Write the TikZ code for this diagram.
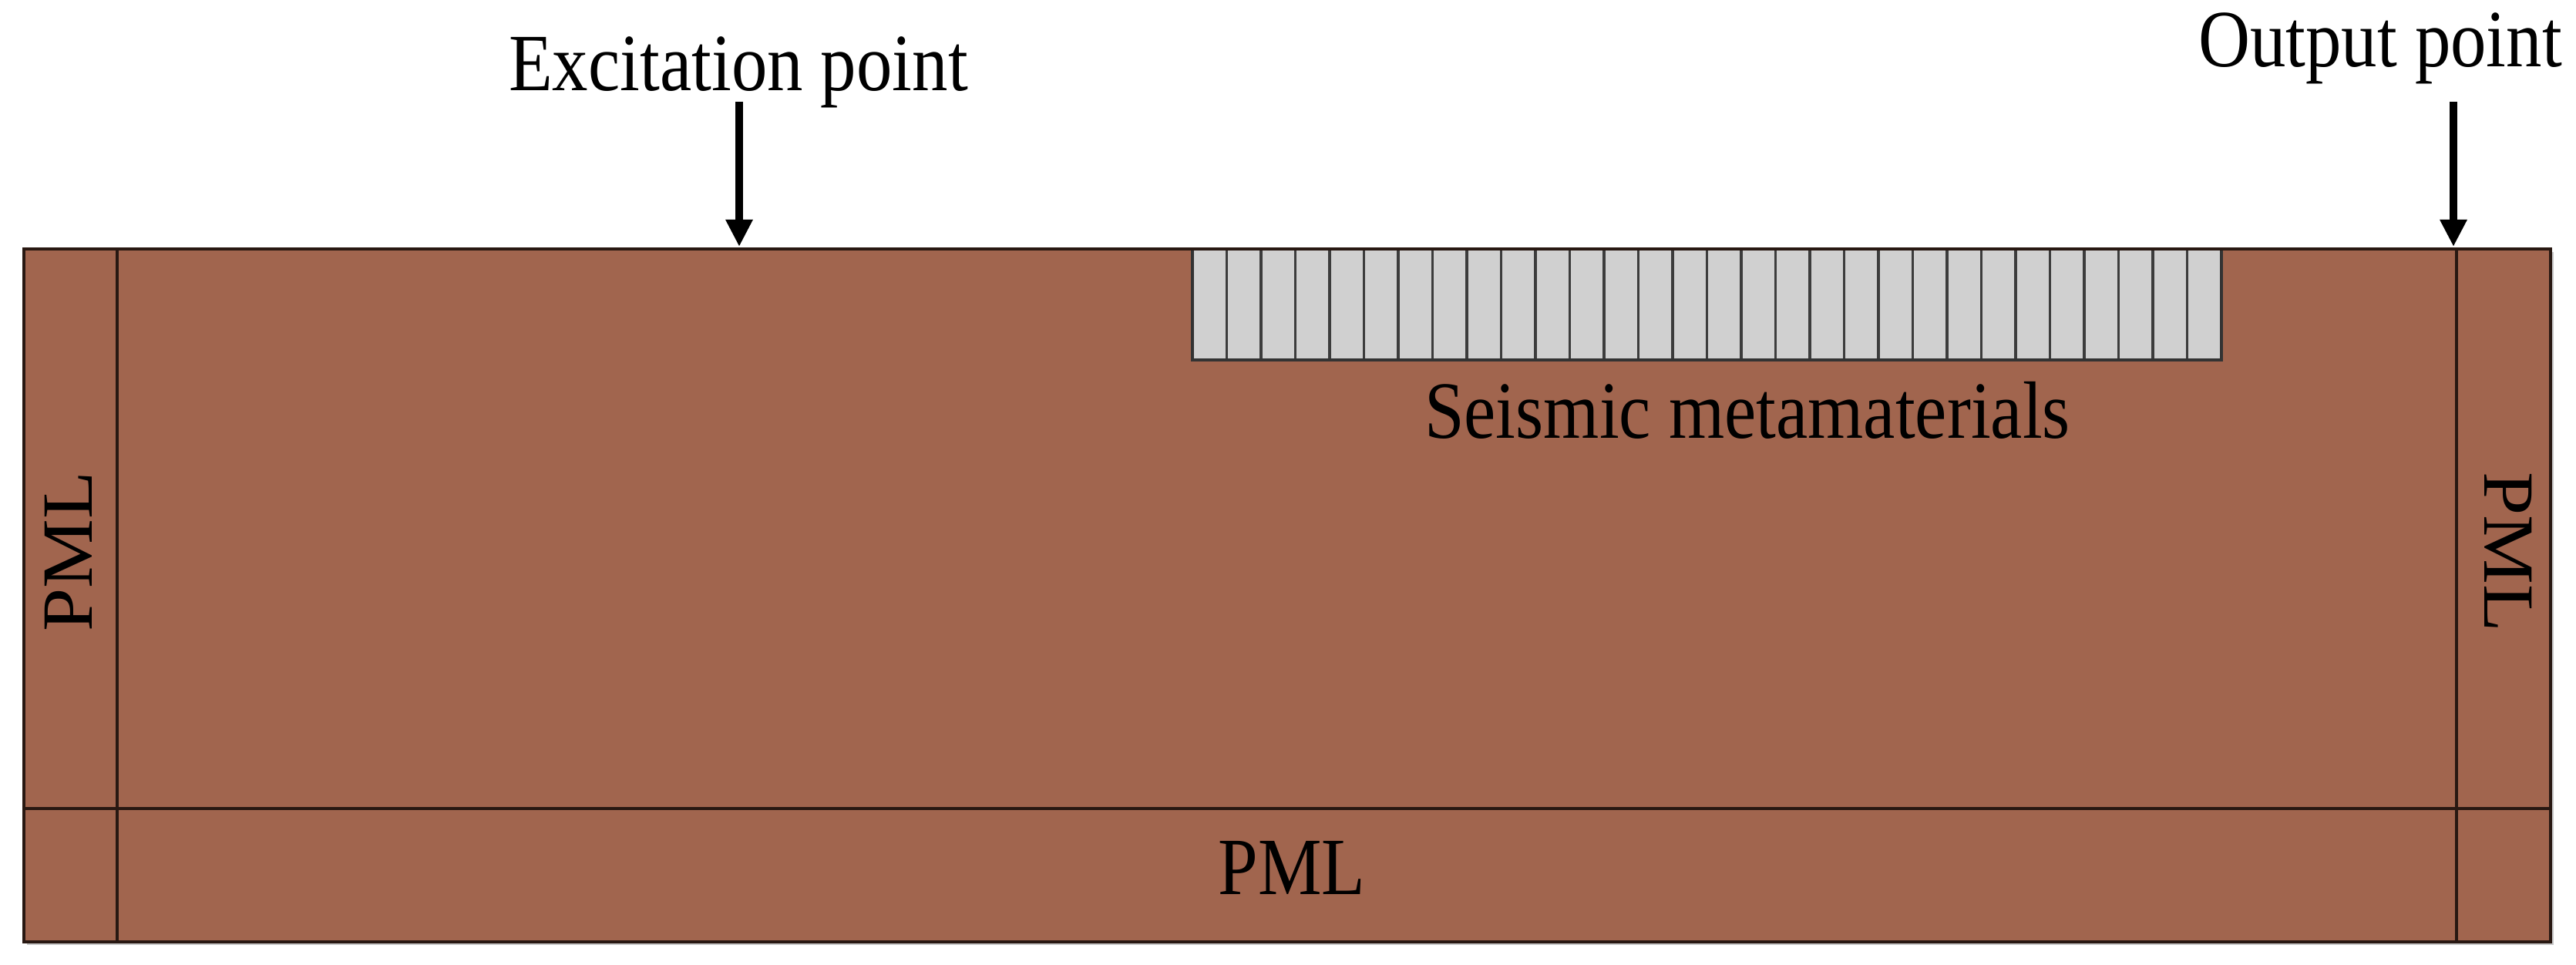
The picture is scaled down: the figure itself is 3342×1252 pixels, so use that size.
\documentclass[tikz,border=0pt]{standalone}
\usepackage{fontspec}
\setmainfont{Liberation Serif}
\newfontfamily\labfont[FakeStretch=0.88]{Liberation Serif}
\newfontfamily\pmlfont[FakeStretch=1.08]{Liberation Serif}
\usetikzlibrary{arrows.meta}
\definecolor{soil}{RGB}{161,101,78}
\definecolor{metafill}{RGB}{208,208,208}
\definecolor{metaline}{RGB}{60,60,60}
\definecolor{frameline}{RGB}{40,24,18}
\begin{document}
\begin{tikzpicture}[x=0.01cm,y=-0.01cm,
  lab/.style={font=\labfont\fontsize{30}{36}\selectfont, inner sep=0pt, text=black},
  pmlv/.style={font=\pmlfont\fontsize{26.6}{32}\selectfont, inner sep=0pt, text=black},
  frame/.style={draw=frameline, line width=0.045cm},
  cell/.style={fill=metafill, draw=metaline, line width=0.035cm},
  arr/.style={line width=0.1cm, draw=black, -{Triangle[width=0.33cm,length=0.35cm]}}]
\useasboundingbox (0,0) rectangle (3342,1252);
% faint shadow
\fill[black!22] (35,327) rectangle (3313,1226);
% domain
\fill[soil] (31,323) rectangle (3309,1222);
% metamaterial cells
\foreach \i in {0,...,29}
  \draw[cell] ({1547+44.5*\i},323) rectangle ({1547+44.5*(\i+1)},467);
\draw[draw=black!80, line width=0.04cm] (1547,323) -- (1547,467) -- (2882,467) -- (2882,323);
% PML boundaries
\draw[frame] (152,323) -- (152,1222);
\draw[frame] (3187,323) -- (3187,1222);
\draw[frame] (31,1049) -- (3309,1049);
\draw[frame] (31,323) rectangle (3309,1222);
% labels
\node[lab, anchor=base] (exc) at (958,118) {Excitation point};
\node[lab, anchor=base] (out) at (3088,87) {Output point};
\node[lab, anchor=base] (seis) at (2267,568) {Seismic metamaterials};
\node[lab, anchor=base] (pmlB) at (1676,1160) {PML};
\node[pmlv, anchor=base, rotate=90] (pmlL) at (120,716) {PML};
\node[pmlv, anchor=base, rotate=-90] (pmlR) at (3223,716) {PML};
% arrows
\coordinate (excTop) at (959,132);
\coordinate (excTip) at (959,320);
\coordinate (outTop) at (3183,132);
\coordinate (outTip) at (3183,320);
\draw[arr] (excTop) -- (excTip);
\draw[arr] (outTop) -- (outTip);
\end{tikzpicture}
\end{document}
